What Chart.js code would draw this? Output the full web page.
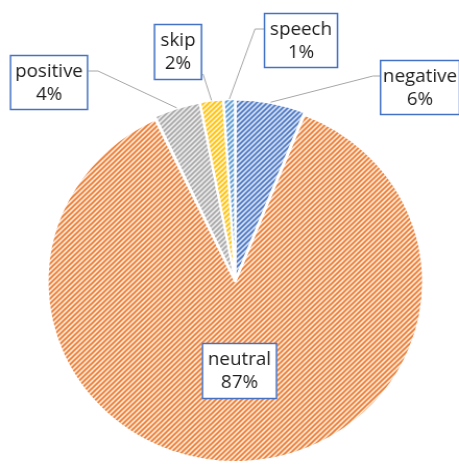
<!DOCTYPE html>
<html>
<head>
<meta charset="utf-8">
<script src="https://cdn.jsdelivr.net/npm/chart.js@4.4.1/dist/chart.umd.min.js"></script>
<style>
  html, body { margin: 0; padding: 0; background: #fff; overflow: hidden; }
  /* the reference is a little wider than tall, so the drawing is stretched a bit */
  #wrap { width: 440px; height: 464px; position: relative; transform: scaleX(1.0432); transform-origin: 0 0; }
</style>
</head>
<body>
<div id="wrap"><canvas id="pieChart"></canvas></div>
<script>
const stretchX = 1.0432;

// data
const categories = ['negative', 'neutral', 'positive', 'skip', 'speech'];
const shares = [6, 87, 4, 2, 1];
const shareLabels = ['6%', '87%', '4%', '2%', '1%'];
const sliceColors = ['#4472C4', '#ED7D31', '#A5A5A5', '#FFC000', '#5B9BD5'];

// label boxes in page pixels: x, y, w, h, elbow and end of the leader line
const labelBoxes = [
    { x: 380, y: 60, w: 80, h: 55, elbow: [373, 76], end: [380, 76] },
    { x: 202, y: 343, w: 75, h: 56, elbow: null, end: null },
    { x: 10, y: 55, w: 78, h: 55, elbow: [98, 71], end: [88, 71] },
    { x: 154, y: 24, w: 48, h: 56, elbow: null, end: [203, 74] },
    { x: 264, y: 13, w: 74, h: 55, elbow: [255, 29], end: [264, 29] }
];

function hatch(color) {
    const s = 5;
    const c = document.createElement('canvas');
    c.width = s; c.height = s;
    const g = c.getContext('2d');
    g.fillStyle = '#fff';
    g.fillRect(0, 0, s, s);
    g.strokeStyle = color;
    g.lineWidth = 2;
    g.beginPath();
    g.moveTo(-1, 1); g.lineTo(1, -1);
    g.moveTo(0, s); g.lineTo(s, 0);
    g.moveTo(s - 1, s + 1); g.lineTo(s + 1, s - 1);
    g.stroke();
    return g.createPattern(c, 'repeat');
}

const labelPlugin = {
    id: 'boxLabels',
    afterDatasetsDraw(chart) {
        const ctx = chart.ctx;
        const meta = chart.getDatasetMeta(0);
        const X = v => v / stretchX;
        ctx.save();
        // leader lines
        ctx.strokeStyle = '#A6A6A6';
        ctx.lineWidth = 1;
        meta.data.forEach(function (arc, i) {
            const b = labelBoxes[i];
            if (!b.end) return;
            const p = arc.getProps(['x', 'y', 'startAngle', 'endAngle', 'outerRadius']);
            const mid = (p.startAngle + p.endAngle) / 2;
            const off = (arc.options.offset || 0) / 2;
            const r = p.outerRadius + off;
            ctx.beginPath();
            ctx.moveTo(p.x + Math.cos(mid) * r, p.y + Math.sin(mid) * r);
            if (b.elbow) ctx.lineTo(X(b.elbow[0]), b.elbow[1]);
            ctx.lineTo(X(b.end[0]), b.end[1]);
            ctx.stroke();
        });
        // boxes and text
        ctx.font = '18px "Open Sans"';
        ctx.textAlign = 'center';
        ctx.textBaseline = 'alphabetic';
        labelBoxes.forEach(function (b, i) {
            ctx.fillStyle = '#fff';
            ctx.fillRect(X(b.x), b.y, X(b.w), b.h);
            ctx.strokeStyle = '#4472C4';
            ctx.lineWidth = 1.5;
            ctx.strokeRect(X(b.x + 0.5), b.y + 0.5, X(b.w - 1), b.h - 1);
            ctx.fillStyle = '#1f1f1f';
            const cx = X(b.x + b.w / 2);
            ctx.fillText(categories[i], cx, b.y + 22);
            ctx.fillText(shareLabels[i], cx, b.y + 45);
        });
        ctx.restore();
    }
};

new Chart(document.getElementById('pieChart'), {
    type: 'pie',
    data: {
        labels: categories,
        datasets: [{
            data: shares,
            backgroundColor: sliceColors.map(hatch),
            borderColor: '#fff',
            borderWidth: 2,
            offset: 6
        }]
    },
    options: {
        responsive: true,
        maintainAspectRatio: false,
        animation: false,
        layout: { padding: { top: 98, bottom: 1, left: 43, right: 32 } },
        plugins: {
            legend: { display: false },
            tooltip: { enabled: false }
        }
    },
    plugins: [labelPlugin]
});
</script>
</body>
</html>
